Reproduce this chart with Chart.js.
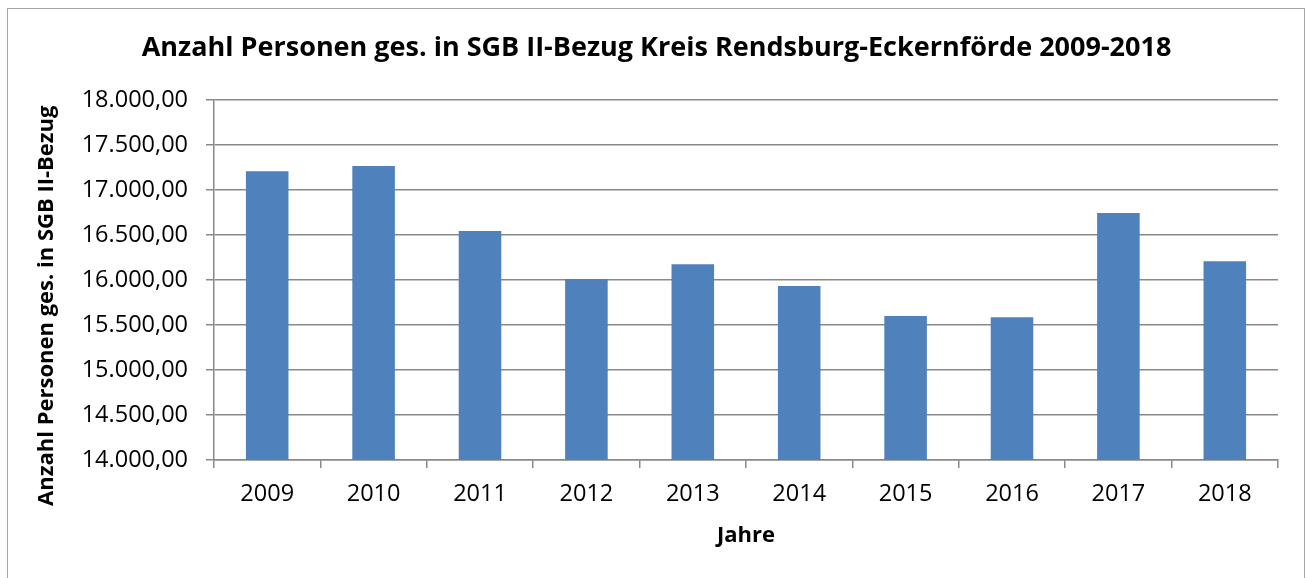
<!DOCTYPE html>
<html>
<head>
<meta charset="utf-8">
<script src="https://cdn.jsdelivr.net/npm/chart.js@4"></script>
<style>
  html, body { margin: 0; padding: 0; background: #fff; }
  canvas { display: block; }
</style>
</head>
<body>
<canvas id="sgb-chart" width="1307" height="578"></canvas>
<script>
// Data
const years = ['2009', '2010', '2011', '2012', '2013', '2014', '2015', '2016', '2017', '2018'];
const persons = [17208, 17267, 16544, 16011, 16174, 15933, 15600, 15585, 16744, 16207];

const FONT = '"Open Sans", "Noto Sans", sans-serif';
const GRID = '#898989';
const NBSP = '\u00a0';

// German number format: 18.000,00
function fmtDe(v) {
    const parts = v.toFixed(2).split('.');
    const int = parts[0].replace(/\B(?=(\d{3})+(?!\d))/g, '.');
    return int + ',' + parts[1];
}

// outer frame like the office chart border
const frame = {
    id: 'frame',
    beforeDraw(chart) {
        const ctx = chart.ctx;
        ctx.save();
        ctx.fillStyle = '#fff';
        ctx.fillRect(0, 0, chart.width, chart.height);
        ctx.strokeStyle = '#a6a6a6';
        ctx.lineWidth = 1;
        ctx.strokeRect(7.5, 8.5, 1297, 580);
        ctx.restore();
    }
};

new Chart(document.getElementById('sgb-chart'), {
    type: 'bar',
    data: {
        labels: years,
        datasets: [{
            label: 'Anzahl Personen',
            data: persons,
            backgroundColor: '#4f81bd',
            borderWidth: 0,
            barPercentage: 1,
            categoryPercentage: 0.4
        }]
    },
    options: {
        responsive: false,
        animation: false,
        devicePixelRatio: 1,
        layout: { padding: { left: 0, right: 29, top: 0, bottom: 0 } },
        plugins: {
            legend: { display: false },
            tooltip: { enabled: false },
            title: {
                display: true,
                // leading no-break spaces shift the title a bit right, as in the original
                text: NBSP.repeat(5) + 'Anzahl Personen ges. in SGB II-Bezug Kreis Rendsburg-Eckernförde 2009-2018',
                color: '#000',
                font: { family: FONT, size: 27, weight: 'bold', lineHeight: 1.2 },
                padding: { top: 32, bottom: 35.6 }
            }
        },
        scales: {
            x: {
                afterFit: s => { s.height = 118; },
                grid: { display: true, drawOnChartArea: false, color: GRID, lineWidth: 1.5, tickLength: 8 },
                border: { color: GRID, width: 1.5 },
                ticks: { color: '#000', padding: 12, font: { family: FONT, size: 23.5 } },
                title: {
                    display: true,
                    text: 'Jahre',
                    color: '#000',
                    font: { family: FONT, size: 22, weight: 'bold', lineHeight: 1.2 },
                    padding: { top: 0, bottom: 29 }
                }
            },
            y: {
                min: 14000,
                max: 18000,
                afterFit: s => { s.width = 214; },
                grid: { color: GRID, lineWidth: 1.5, tickLength: 8 },
                border: { color: GRID, width: 1.5 },
                ticks: {
                    stepSize: 500,
                    color: '#000',
                    padding: 18,
                    font: { family: FONT, size: 23.5 },
                    callback: v => fmtDe(v)
                },
                title: {
                    display: true,
                    // trailing no-break spaces nudge the rotated title down
                    text: 'Anzahl Personen ges. in SGB II-Bezug' + NBSP.repeat(9),
                    color: '#000',
                    font: { family: FONT, size: 22, weight: 'bold', lineHeight: 1.2 },
                    padding: { top: 34, bottom: 0 }
                }
            }
        }
    },
    plugins: [frame]
});
</script>
</body>
</html>
